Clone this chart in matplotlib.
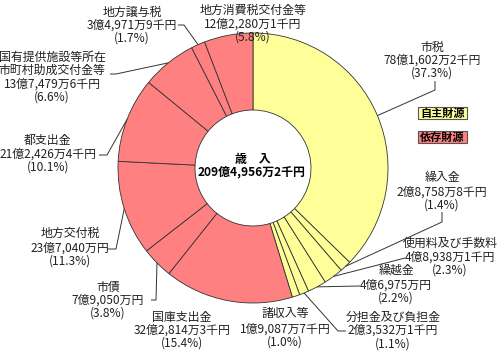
import numpy as np
import matplotlib
matplotlib.use("Agg")
import matplotlib.pyplot as plt
from matplotlib.patches import Rectangle

plt.rcParams['font.family'] = ['Noto Sans CJK JP', 'DejaVu Sans']

# ---- data (千円) ----
categories = ["市税", "繰入金", "使用料及び手数料", "繰越金", "分担金及び負担金", "諸収入等",
              "国庫支出金", "市債", "地方交付税", "都支出金",
              "国有提供施設等所在\n市町村助成交付金等", "地方譲与税", "地方消費税交付金等"]
values = [7816022, 287588, 489381, 469750, 235321, 190877,
          3228143, 790500, 2370400, 2124264, 1374796, 349719, 1222801]
amount_labels = ["78億1,602万2千円", "2億8,758万8千円", "4億8,938万1千円", "4億6,975万円",
                 "2億3,532万1千円", "1億9,087万7千円", "32億2,814万3千円", "7億9,050万円",
                 "23億7,040万円", "21億2,426万4千円", "13億7,479万6千円", "3億4,971万9千円",
                 "12億2,280万1千円"]
pct_labels = ["(37.3%)", "(1.4%)", "(2.3%)", "(2.2%)", "(1.1%)", "(1.0%)", "(15.4%)", "(3.8%)",
              "(11.3%)", "(10.1%)", "(6.6%)", "(1.7%)", "(5.8%)"]
source_type = ["自主", "自主", "自主", "自主", "自主", "自主",
               "依存", "依存", "依存", "依存", "依存", "依存", "依存"]
legend_labels = ["自主財源", "依存財源"]
total_label = "209億4,956万2千円"

YELLOW = "#FFFF99"
RED = "#FF8080"
col = {"自主": YELLOW, "依存": RED}

W, H = 500, 352
fig = plt.figure(figsize=(5, 3.52), dpi=100)
ax = fig.add_axes([0, 0, 1, 1])

def P(x, y):
    return (x, H - y)

cx, cy = 253, 168
R_OUT, R_IN = 135, 58
wedges, _ = ax.pie(values, colors=[col[s] for s in source_type], startangle=90,
                   counterclock=False, center=P(cx, cy), radius=R_OUT, frame=True,
                   wedgeprops=dict(width=R_OUT - R_IN, edgecolor='#333333', linewidth=0.6))
ax.set_xlim(0, W)
ax.set_ylim(0, H)
ax.set_aspect('equal')
ax.axis('off')

def edge_point(i):
    w = wedges[i]
    a = np.deg2rad((w.theta1 + w.theta2) / 2)
    c = w.center
    return (c[0] + R_OUT * np.cos(a), c[1] + R_OUT * np.sin(a))

TXT = '#222222'
FS = 8.6
# label placement: (center x, [line y's]) in pixel coords
layout = {
    0: (432, [47, 60, 73]),
    1: (442, [177, 192, 205]),
    2: (450, [243, 257, 270]),
    3: (396, [270, 285, 298]),
    4: (393, [317, 330, 344]),
    5: (285, [314, 329, 342]),
    6: (182, [317, 330, 343]),
    7: (108, [287, 300, 313]),
    8: (70, [233, 248, 261]),
    9: (48, [140, 154, 167]),
    10: (52, [57, 70, 84, 97]),
    11: (132, [12, 25, 38]),
    12: (253, [10, 24, 37]),
}
for i, (x, ys) in layout.items():
    lines = categories[i].split("\n") + [amount_labels[i], pct_labels[i]]
    for ln, y in zip(lines, ys):
        ax.text(*P(x, y), ln, ha='center', va='center', fontsize=FS, color=TXT)

# leader lines: label-side points (pixels) then wedge edge
leaders = {
    0: [(435, 81), (435, 90)],
    1: [(442, 212), (442, 222)],
    2: [(405, 258)],
    3: [(360, 286)],
    4: [(346, 331), (338, 331)],
    7: [(151, 300), (156, 300)],
    8: [(107, 249), (116, 249)],
    9: [(99, 155), (107, 155)],
    10: [(110, 74), (116, 74)],
    11: [(178, 25), (184, 25)],
}
for i, pts in leaders.items():
    xs = [p[0] for p in pts]
    ys = [H - p[1] for p in pts]
    ex, ey = edge_point(i)
    xs.append(ex)
    ys.append(ey)
    ax.plot(xs, ys, color='#333333', lw=0.7, solid_capstyle='butt')

# center text
ax.text(*P(253, 159), "歳　入", ha='center', va='center', fontsize=FS, fontweight='bold', color='black')
ax.text(*P(252, 172), total_label, ha='center', va='center', fontsize=FS, fontweight='bold', color='black')

# legend boxes
for lab, c, (y0, y1) in zip(legend_labels, [YELLOW, RED], [(107, 119), (131, 143)]):
    ax.add_patch(Rectangle((418, H - y1), 49, y1 - y0, facecolor=c, edgecolor='#555555', lw=0.8))
    ax.text(442.5, H - (y0 + y1) / 2, lab, ha='center', va='center', fontsize=8,
            fontweight='bold', color='black')

fig.savefig("out.png", dpi=100)
